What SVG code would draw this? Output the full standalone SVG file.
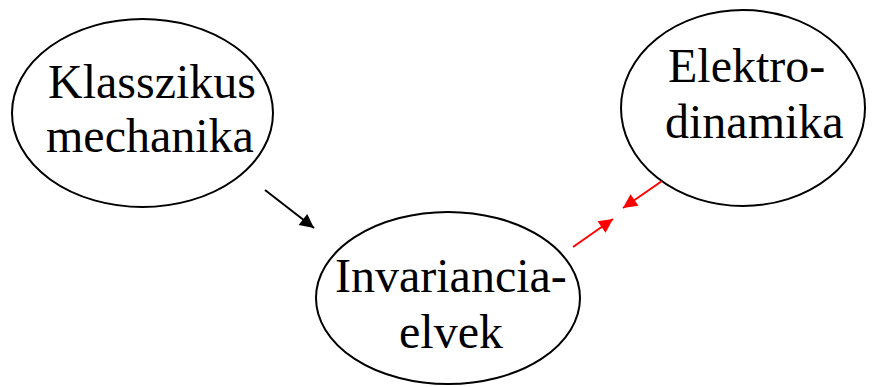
<svg xmlns="http://www.w3.org/2000/svg" width="874" height="387" viewBox="0 0 874 387">
  <defs>
    <marker id="arrow-black" viewBox="0 0 10 10" refX="10" refY="5" markerWidth="8.5" markerHeight="7" markerUnits="strokeWidth" orient="auto">
      <path d="M0,0 L10,5 L0,10 z" fill="#000"/>
    </marker>
    <marker id="arrow-red" viewBox="0 0 10 10" refX="10" refY="5" markerWidth="8.5" markerHeight="7" markerUnits="strokeWidth" orient="auto">
      <path d="M0,0 L10,5 L0,10 z" fill="#ff0000"/>
    </marker>
  </defs>
  <style>
    .node ellipse { fill: #fff; stroke: #000; stroke-width: 2; }
    .label { font-family: "Liberation Serif", "Times New Roman", serif; font-size: 48px; fill: #000; }
    .edge { fill: none; stroke-width: 2; }
  </style>
  <rect width="874" height="387" fill="#fff"/>

  <g id="klasszikus-mechanika" class="node">
    <ellipse cx="142.5" cy="113" rx="130.5" ry="94"/>
    <text class="label" x="48" y="98">Klasszikus</text>
    <text class="label" x="46" y="152">mechanika</text>
  </g>

  <g id="elektrodinamika" class="node">
    <ellipse cx="743" cy="108" rx="122" ry="98"/>
    <text class="label" x="668" y="82">Elektro-</text>
    <text class="label" x="665" y="138">dinamika</text>
  </g>

  <g id="invariancia-elvek" class="node">
    <ellipse cx="448" cy="298" rx="132" ry="86"/>
    <text class="label" x="335" y="292">Invariancia-</text>
    <text class="label" x="399" y="348">elvek</text>
  </g>

  <g id="connectors">
    <line class="edge" x1="265" y1="190" x2="314" y2="228" stroke="#000" marker-end="url(#arrow-black)"/>
    <line class="edge" x1="662" y1="181" x2="623" y2="208" stroke="#ff0000" marker-end="url(#arrow-red)"/>
    <line class="edge" x1="573" y1="247" x2="613" y2="219" stroke="#ff0000" marker-end="url(#arrow-red)"/>
  </g>
</svg>
